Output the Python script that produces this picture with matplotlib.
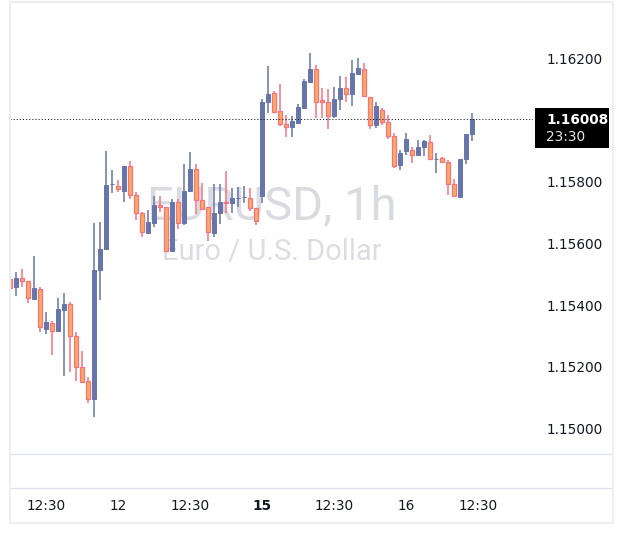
import matplotlib
matplotlib.use("Agg")
import matplotlib.pyplot as plt
from matplotlib.lines import Line2D
from matplotlib.patches import Rectangle
import numpy as np

# ---------------- data (EURUSD 1h candles) ----------------
opens = [1.15490,1.15464,1.15493,1.15484,1.15425,1.15458,1.15328,1.15348,1.15321,1.15390,
         1.15409,1.15305,1.15205,1.15159,1.15101,1.15519,1.15588,1.15797,1.15792,1.15776,
         1.15857,1.15763,1.15704,1.15639,1.15672,1.15730,1.15724,1.15581,1.15740,1.15672,
         1.15776,1.15847,1.15746,1.15724,1.15639,1.15704,1.15740,1.15737,1.15752,1.15755,
         1.15753,1.15720,1.15759,1.16064,1.16093,1.16035,1.15993,1.15983,1.15996,1.16045,
         1.16129,1.16171,1.16071,1.16064,1.16019,1.16074,1.16110,1.16090,1.16155,1.16171,
         1.16080,1.15990,1.16038,1.15999,1.15954,1.15860,1.15905,1.15909,1.15892,1.15918,
         1.15935,1.15878,1.15883,1.15870,1.15798,1.15756,1.15879,1.15960]
highs = [1.15497,1.15513,1.15523,1.15484,1.15565,1.15464,1.15383,1.15354,1.15429,1.15445,
         1.15416,1.15318,1.15257,1.15172,1.15672,1.15675,1.15905,1.15844,1.15811,1.15857,
         1.15873,1.15772,1.15707,1.15714,1.15759,1.15759,1.15724,1.15750,1.15750,1.15863,
         1.15902,1.15863,1.15802,1.15724,1.15798,1.15798,1.15840,1.15785,1.15789,1.15792,
         1.15785,1.15720,1.16074,1.16181,1.16100,1.16123,1.16022,1.16019,1.16058,1.16139,
         1.16223,1.16184,1.16110,1.16106,1.16113,1.16149,1.16145,1.16200,1.16207,1.16191,
         1.16080,1.16064,1.16045,1.16022,1.15964,1.15909,1.15964,1.15918,1.15941,1.15941,
         1.15957,1.15899,1.15886,1.15876,1.15815,1.15879,1.15960,1.16029]
lows = [1.15455,1.15435,1.15464,1.15413,1.15422,1.15318,1.15312,1.15244,1.15321,1.15176,
        1.15189,1.15159,1.15156,1.15088,1.15043,1.15422,1.15588,1.15769,1.15772,1.15740,
        1.15750,1.15682,1.15626,1.15639,1.15659,1.15707,1.15581,1.15581,1.15652,1.15665,
        1.15776,1.15701,1.15714,1.15613,1.15626,1.15669,1.15704,1.15704,1.15724,1.15737,
        1.15711,1.15665,1.15737,1.16029,1.16029,1.15986,1.15951,1.15951,1.15993,1.16045,
        1.16129,1.16012,1.16012,1.15977,1.16012,1.16038,1.16064,1.16051,1.16155,1.16084,
        1.15977,1.15980,1.15990,1.15944,1.15850,1.15844,1.15892,1.15866,1.15892,1.15889,
        1.15876,1.15834,1.15866,1.15763,1.15756,1.15756,1.15863,1.15938]
closes = [1.15461,1.15493,1.15484,1.15429,1.15461,1.15335,1.15351,1.15321,1.15393,1.15409,
          1.15305,1.15205,1.15156,1.15101,1.15519,1.15588,1.15795,1.15799,1.15782,1.15857,
          1.15763,1.15704,1.15643,1.15675,1.15730,1.15724,1.15581,1.15740,1.15672,1.15776,
          1.15847,1.15746,1.15717,1.15643,1.15704,1.15740,1.15737,1.15753,1.15754,1.15757,
          1.15720,1.15678,1.16064,1.16090,1.16032,1.15993,1.15983,1.16003,1.16048,1.16132,
          1.16171,1.16064,1.16064,1.16019,1.16074,1.16110,1.16090,1.16158,1.16174,1.16084,
          1.15990,1.16051,1.15999,1.15954,1.15857,1.15899,1.15944,1.15892,1.15918,1.15938,
          1.15879,1.15880,1.15870,1.15798,1.15759,1.15879,1.15960,1.16008]

time_tick_index = [6, 18, 30, 42, 54, 66, 78]
time_tick_labels = ["12:30", "12", "12:30", "15", "12:30", "16", "12:30"]
time_tick_bold = [False, False, False, True, False, False, False]

# 1.16000 is hidden by the last-price label in the reference
price_ticks = [1.150, 1.152, 1.154, 1.156, 1.158, 1.162]
last_price = 1.16008
countdown = "23:30"
title_text = "EURUSD, 1h"
subtitle_text = "Euro / U.S. Dollar"

# ---------------- styling ----------------
W, H = 623, 542
BULL = "#6675aa"
BEAR_FACE = "#fdab63"
BEAR_EDGE = "#f7727f"
TEXT = "#131722"
LINE = "#e0e3eb"
BORDER = "#efefef"

fig = plt.figure(figsize=(W / 100, H / 100), dpi=100)
fig.patch.set_facecolor("white")

def fbox(x0, y0, x1, y1):
    return [x0 / W, 1 - y1 / H, (x1 - x0) / W, (y1 - y0) / H]

# main candle axes
ax = fig.add_axes(fbox(10, 3, 533, 454))
ax.set_facecolor("none")
for s in ax.spines.values():
    s.set_visible(False)
ax.set_xticks([])
ax.set_yticks([])
ax.set_xlim(0, (533 - 10) / 6)
ax.set_ylim(1.149227, 1.163853)

o = np.array(opens); h = np.array(highs); l = np.array(lows); c = np.array(closes)
x = np.arange(len(o))
up = c >= o

# watermark
ax.text(0.5, 0.548, title_text, transform=ax.transAxes, ha="center", va="center",
        fontsize=34, family="Roboto", color="#dadbe0", zorder=0)
ax.text(0.5, 0.447, subtitle_text, transform=ax.transAxes, ha="center", va="center",
        fontsize=21, family="Roboto", color="#dcdde2", zorder=0)

# wicks
ax.vlines(x[up], l[up], h[up], color=BULL, lw=1.1, zorder=2)
ax.vlines(x[~up], l[~up], h[~up], color=BEAR_EDGE, lw=1.1, zorder=2)
# bodies
body_w = 0.68
ax.bar(x[up], np.maximum(c[up] - o[up], 0.000006), bottom=o[up], width=body_w,
       color=BULL, edgecolor=BULL, lw=0.7, zorder=3)
ax.bar(x[~up], np.maximum(o[~up] - c[~up], 0.000006), bottom=c[~up], width=body_w,
       color=BEAR_FACE, edgecolor=BEAR_EDGE, lw=0.9, zorder=3)

# last price dotted line
ax.axhline(last_price, color=TEXT, lw=0.75, ls=(0, (1, 2)), zorder=4)

# price scale labels
def price_to_fig_y(p):
    return ax.transData.transform((0, p))[1] / fig.bbox.height

for p in price_ticks:
    fig.text(547 / W, price_to_fig_y(p), f"{p:.5f}", ha="left", va="center",
             fontsize=9.8, color=TEXT)

# last price box
fig.add_artist(Rectangle((535 / W, 1 - 148 / H), 74 / W, 40 / H, transform=fig.transFigure,
                         facecolor="black", edgecolor="none", zorder=5))
fig.text(546 / W, 1 - 119.5 / H, f"{last_price:.5f}", ha="left", va="center",
         fontsize=9.8, color="white", fontweight="bold", zorder=6)
fig.text(546 / W, 1 - 137 / H, countdown, ha="left", va="center",
         fontsize=9.8, color="#e8e8e8", zorder=6)

# time axis
ax2 = fig.add_axes(fbox(10, 488, 612, 523))
ax2.set_facecolor("none")
for s in ax2.spines.values():
    s.set_visible(False)
ax2.set_xticks([]); ax2.set_yticks([])
ax2.set_xlim(0, (612 - 10) / 6)
ax2.set_ylim(0, 1)
for xi, lab, b in zip(time_tick_index, time_tick_labels, time_tick_bold):
    ax2.text(xi, 0.5, lab, ha="center", va="center", fontsize=9.8, color=TEXT,
             fontweight="bold" if b else "normal")

# separators and border
for yy in (454, 488):
    fig.add_artist(Line2D([10 / W, 612 / W], [1 - yy / H, 1 - yy / H], color=LINE, lw=1,
                          transform=fig.transFigure))
fig.add_artist(Rectangle((9.5 / W, 1 - 523 / H), 603 / W, 521 / H, transform=fig.transFigure,
                         facecolor="none", edgecolor=BORDER, lw=1.5, zorder=10))

fig.savefig("out.png", dpi=100, facecolor="white")
